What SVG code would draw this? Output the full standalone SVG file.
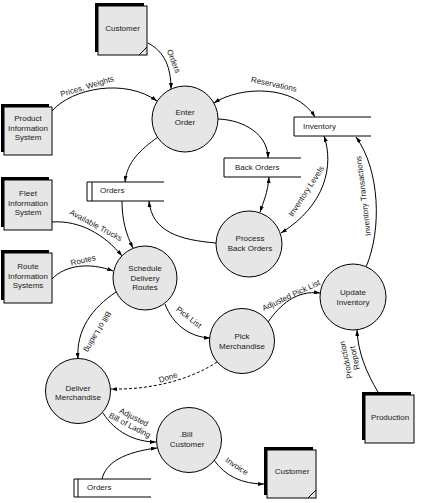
<svg xmlns="http://www.w3.org/2000/svg" width="444" height="503" viewBox="0 0 444 503">
<defs>
<style>
text{font-family:"Liberation Sans",Arial,sans-serif;font-size:8px;fill:#1a1a1a}
.m{text-anchor:middle}
.proc circle{fill:#e6e6e6;stroke:#000;stroke-width:1}
.ent .sh{fill:#000}
.ent .bx{fill:#e6e6e6;stroke:#000;stroke-width:1}
.ent line{stroke:#000;stroke-width:1}
.store .bg{fill:#fff}
.store path{fill:none;stroke:#000;stroke-width:1}
#connectors path{fill:none;stroke:#000;stroke-width:1}
#connectors path.d{stroke-dasharray:3 2}
</style>
<marker id="a" viewBox="0 0 6 4" refX="6" refY="2" markerWidth="6" markerHeight="4" markerUnits="userSpaceOnUse" orient="auto-start-reverse">
<path d="M0,0 L6,2 L0,4 z" fill="#000" stroke="none"/>
</marker>
</defs>
<rect width="444" height="503" fill="#fff"/>

<g id="connectors">
<path d="M148,43 C165,52 171,68 171,89" marker-end="url(#a)"/>
<text transform="translate(174,61) rotate(69)" class="m" y="3">Orders</text>
<path d="M52,111 C72,88 125,78 157,101" marker-end="url(#a)"/>
<text transform="translate(87,86) rotate(-17)" class="m" y="3">Prices, Weights</text>
<path d="M214,103 C240,86 295,84 315,117" marker-start="url(#a)" marker-end="url(#a)"/>
<text transform="translate(274,84) rotate(12)" class="m" y="3">Reservations</text>
<path d="M218,119 C245,120 268,135 268,158" marker-end="url(#a)"/>
<path d="M269,177 C268,192 263,203 260,212" marker-start="url(#a)" marker-end="url(#a)"/>
<path d="M324,136 C334,165 326,205 281,233" marker-start="url(#a)" marker-end="url(#a)"/>
<text transform="translate(306,191) rotate(-57)" class="m" y="3">Inventory Levels</text>
<path d="M366,267 C382,230 380,170 356,137" marker-end="url(#a)"/>
<text transform="translate(363,196) rotate(-97)" class="m" y="3">Inventory Transactions</text>
<path d="M158,137 C140,150 127,162 125,182" marker-end="url(#a)"/>
<path d="M216,243 C180,240 152,232 149,201" marker-end="url(#a)"/>
<path d="M122,201 C122,220 126,234 133,248" marker-end="url(#a)"/>
<path d="M52,222 C80,220 105,235 122,256" marker-end="url(#a)"/>
<text transform="translate(96,225) rotate(28)" class="m" y="3">Available Trucks</text>
<path d="M52,279 C65,265 90,262 113,271" marker-end="url(#a)"/>
<text transform="translate(83,260) rotate(-13)" class="m" y="3">Routes</text>
<path d="M165,304 C173,325 190,337 210,338" marker-end="url(#a)"/>
<text transform="translate(189,317) rotate(38)" class="m" y="3">Pick List</text>
<path d="M116,292 C92,308 76,330 78,359" marker-end="url(#a)"/>
<text transform="translate(98,332) rotate(120)" class="m" y="3">Bill of Lading</text>
<path d="M268,322 C280,305 296,290 320,293" marker-end="url(#a)"/>
<text transform="translate(291,295) rotate(-25)" class="m" y="3">Adjusted Pick List</text>
<path class="d" d="M217,362 C190,380 150,390 111,389" marker-end="url(#a)"/>
<text transform="translate(168,377) rotate(-17)" class="m" y="3">Done</text>
<path d="M103,413 C115,432 135,442 156,442" marker-end="url(#a)"/>
<g transform="translate(132,421) rotate(27)">
<text class="m" y="-1.5">Adjusted</text>
<text class="m" y="7.5">Bill of Lading</text>
</g>
<path d="M102,479 C106,462 125,452 157,448" marker-end="url(#a)"/>
<path d="M214,460 C225,476 242,484 264,484" marker-end="url(#a)"/>
<text transform="translate(237,466) rotate(34)" class="m" y="3">Invoice</text>
<path d="M378,392 C366,372 358,352 357,330" marker-end="url(#a)"/>
<g transform="translate(350,359) rotate(-102)">
<text class="m" y="-1.5">Production</text>
<text class="m" y="7.5">Report</text>
</g>
</g>

<g id="customer-top" class="ent">
<rect class="sh" x="95" y="3" width="49" height="49"/>
<rect class="bx" x="98" y="6" width="49" height="49"/>
<line x1="139" y1="55" x2="147" y2="47"/>
<text class="m" x="122.5" y="31">Customer</text>
</g>
<g id="product-info" class="ent">
<rect class="sh" x="1" y="104" width="48" height="48"/>
<rect class="bx" x="4" y="107" width="48" height="48"/>
<text class="m" x="28" y="121">Product</text>
<text class="m" x="28" y="130.5">Information</text>
<text class="m" x="28" y="140">System</text>
</g>
<g id="fleet-info" class="ent">
<rect class="sh" x="1" y="177" width="48" height="50"/>
<rect class="bx" x="4" y="180" width="48" height="50"/>
<text class="m" x="28" y="196">Fleet</text>
<text class="m" x="28" y="205.5">Information</text>
<text class="m" x="28" y="215">System</text>
</g>
<g id="route-info" class="ent">
<rect class="sh" x="1" y="250" width="48" height="50"/>
<rect class="bx" x="4" y="253" width="48" height="50"/>
<text class="m" x="28" y="269">Route</text>
<text class="m" x="28" y="278.5">Information</text>
<text class="m" x="28" y="288">Systems</text>
</g>
<g id="production" class="ent">
<rect class="sh" x="362" y="392" width="49" height="48"/>
<rect class="bx" x="365" y="395" width="49" height="48"/>
<text class="m" x="390" y="420">Production</text>
</g>
<g id="customer-bottom" class="ent">
<rect class="sh" x="264" y="447" width="49" height="48"/>
<rect class="bx" x="267" y="450" width="49" height="48"/>
<line x1="308" y1="498" x2="316" y2="490"/>
<text class="m" x="292" y="474">Customer</text>
</g>

<g id="store-inventory" class="store">
<rect class="bg" x="294" y="117" width="77" height="19"/>
<path d="M371,117 H294 V136 H371"/>
<text x="303" y="129">Inventory</text>
</g>
<g id="store-backorders" class="store">
<rect class="bg" x="224" y="158" width="77" height="19"/>
<path d="M301,158 H224 V177 H301"/>
<text x="235" y="170">Back Orders</text>
</g>
<g id="store-orders" class="store">
<rect class="bg" x="87" y="182" width="77" height="19"/>
<path d="M164,182 H87 V201 H164 M92,182 V201"/>
<text x="100" y="193">Orders</text>
</g>
<g id="store-orders-2" class="store">
<rect class="bg" x="74" y="479" width="77" height="18"/>
<path d="M151,479 H74 V497 H151 M78,479 V497"/>
<text x="87" y="490">Orders</text>
</g>

<g id="enter-order" class="proc">
<circle cx="185" cy="119" r="33"/>
<text class="m" x="185" y="115">Enter</text>
<text class="m" x="185" y="125">Order</text>
</g>
<g id="process-back-orders" class="proc">
<circle cx="249" cy="244" r="33"/>
<text class="m" x="250" y="241">Process</text>
<text class="m" x="250" y="251">Back Orders</text>
</g>
<g id="schedule-delivery" class="proc">
<circle cx="145" cy="278" r="32"/>
<text class="m" x="145" y="271">Schedule</text>
<text class="m" x="145" y="281">Delivery</text>
<text class="m" x="145" y="290">Routes</text>
</g>
<g id="pick-merchandise" class="proc">
<circle cx="242" cy="341" r="32.5"/>
<text class="m" x="242" y="339">Pick</text>
<text class="m" x="242" y="349">Merchandise</text>
</g>
<g id="update-inventory" class="proc">
<circle cx="353" cy="297" r="33"/>
<text class="m" x="353" y="295">Update</text>
<text class="m" x="353" y="305">Inventory</text>
</g>
<g id="deliver-merchandise" class="proc">
<circle cx="78" cy="391" r="32.5"/>
<text class="m" x="78" y="391">Deliver</text>
<text class="m" x="78" y="400">Merchandise</text>
</g>
<g id="bill-customer" class="proc">
<circle cx="189" cy="440" r="32.5"/>
<text class="m" x="186" y="437">.Bill</text>
<text class="m" x="187" y="447">Customer</text>
</g>
</svg>
